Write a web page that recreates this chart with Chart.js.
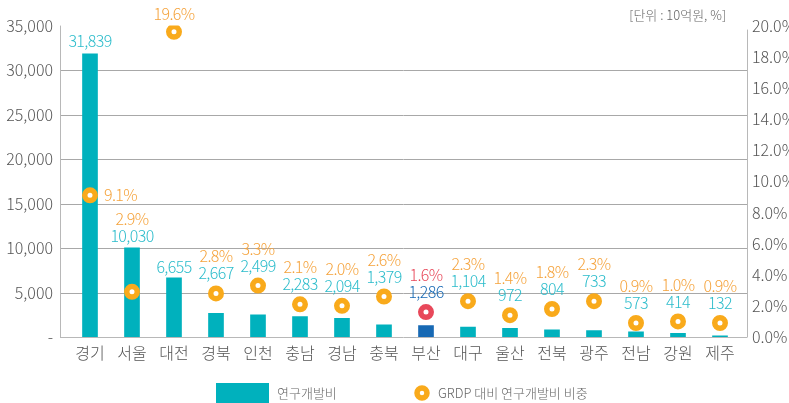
<!DOCTYPE html>
<html>
<head>
<meta charset="utf-8">
<script src="https://cdn.jsdelivr.net/npm/chart.js@4"></script>
<style>
  html, body { margin: 0; padding: 0; background: #fff; }
  #wrap { width: 789px; height: 403px; position: relative; }
</style>
</head>
<body>
<div id="wrap"><canvas id="rndChart" width="789" height="403"></canvas></div>
<script>
const regions = ['경기', '서울', '대전', '경북', '인천', '충남', '경남', '충북', '부산', '대구', '울산', '전북', '광주', '전남', '강원', '제주'];
const rndSpend = [31839, 10030, 6655, 2667, 2499, 2283, 2094, 1379, 1286, 1104, 972, 804, 733, 573, 414, 132];
const grdpShare = [9.1, 2.9, 19.6, 2.8, 3.3, 2.1, 2.0, 2.6, 1.6, 2.3, 1.4, 1.8, 2.3, 0.9, 1.0, 0.9];
const leftTicks = [0, 5000, 10000, 15000, 20000, 25000, 30000, 35000];
const rightTicks = [0, 2, 4, 6, 8, 10, 12, 14, 16, 18, 20];
const highlight = '부산';

const FONT = '"Noto Sans CJK KR", "Noto Sans", sans-serif';
const TEAL = '#00b1bd';
const TEAL_TXT = '#2bbccb';
const ORANGE = '#f9aa1b';
const ORANGE_TXT = '#f5a33c';
const BLUE = '#1769b4';
const RED = '#e8485a';
const AXIS = '#b8b8b8';
const GRID = '#a8a8a8';

const hi = regions.indexOf(highlight);
const barColors = regions.map((r, i) => i === hi ? BLUE : TEAL);
const pointColors = regions.map((r, i) => i === hi ? RED : ORANGE);

const fmt = v => v.toLocaleString('en-US');

// gridlines + axis lines extend a bit past the category band
const framePlugin = {
    id: 'frame',
    beforeDatasetsDraw(chart) {
        const { ctx, chartArea, scales } = chart;
        const x0 = chartArea.left - 9, x1 = chartArea.right + 6;
        ctx.save();
        ctx.lineWidth = 1;
        ctx.strokeStyle = GRID;
        leftTicks.slice(1, -1).forEach(v => {
            const y = Math.round(scales.y.getPixelForValue(v)) + 0.5;
            ctx.beginPath(); ctx.moveTo(x0, y); ctx.lineTo(x1, y); ctx.stroke();
        });
        ctx.strokeStyle = AXIS;
        const yb = Math.round(scales.y.getPixelForValue(0)) + 0.5;
        ctx.beginPath(); ctx.moveTo(x0, yb); ctx.lineTo(x1, yb); ctx.stroke();
        ctx.beginPath(); ctx.moveTo(x0 + 0.5, chartArea.top); ctx.lineTo(x0 + 0.5, yb); ctx.stroke();
        ctx.beginPath(); ctx.moveTo(x1 + 0.5, chartArea.top + 4); ctx.lineTo(x1 + 0.5, yb); ctx.stroke();
        ctx.restore();
    }
};

// stacked value labels above each bar / point
const labelPlugin = {
    id: 'valueLabels',
    afterDatasetsDraw(chart) {
        const { ctx } = chart;
        const bars = chart.getDatasetMeta(1).data;
        const pts = chart.getDatasetMeta(0).data;
        ctx.save();
        ctx.font = '300 16px ' + FONT;
        ctx.letterSpacing = '-0.6px';
        ctx.textAlign = 'center';
        ctx.textBaseline = 'middle';
        regions.forEach((r, i) => {
            const bar = bars[i], pt = pts[i];
            const valColor = i === hi ? BLUE : TEAL_TXT;
            const pctColor = i === hi ? RED : ORANGE_TXT;
            const pctText = grdpShare[i].toFixed(1) + '%';
            if (i === 0) {
                ctx.fillStyle = valColor;
                ctx.fillText(fmt(rndSpend[i]), bar.x, bar.y - 13);
                ctx.fillStyle = pctColor;
                ctx.textAlign = 'left';
                ctx.fillText(pctText, pt.x + 14, pt.y);
                ctx.textAlign = 'center';
                return;
            }
            if (i === 2) {
                ctx.fillStyle = valColor;
                ctx.fillText(fmt(rndSpend[i]), bar.x, bar.y - 11);
                ctx.fillStyle = pctColor;
                ctx.fillText(pctText, pt.x, pt.y - 18);
                return;
            }
            const top = Math.min(bar.y, pt.y - 8);
            ctx.fillStyle = valColor;
            ctx.fillText(fmt(rndSpend[i]), bar.x, top - 12);
            ctx.fillStyle = pctColor;
            ctx.fillText(pctText, bar.x, top - 29);
        });

        // unit note
        ctx.letterSpacing = '0px';
        ctx.font = '300 13px ' + FONT;
        ctx.fillStyle = '#666';
        ctx.textAlign = 'right';
        ctx.fillText('[단위 : 10억원, %]', 726, 15);

        // legend
        ctx.fillStyle = TEAL;
        ctx.fillRect(216, 383, 53, 22);
        ctx.fillStyle = '#666';
        ctx.textAlign = 'left';
        ctx.fillText('연구개발비', 277, 393);
        ctx.beginPath();
        ctx.arc(422, 393, 5, 0, Math.PI * 2);
        ctx.lineWidth = 5.5;
        ctx.strokeStyle = ORANGE;
        ctx.fillStyle = '#fff';
        ctx.fill();
        ctx.stroke();
        ctx.fillStyle = '#666';
        ctx.fillText('GRDP 대비 연구개발비 비중', 438, 393);
        ctx.restore();
    }
};

new Chart(document.getElementById('rndChart'), {
    data: {
        labels: regions,
        datasets: [{
            type: 'line',
            label: 'GRDP 대비 연구개발비 비중',
            data: grdpShare,
            yAxisID: 'y1',
            showLine: false,
            pointRadius: 5.25,
            pointBorderWidth: 5.5,
            pointBorderColor: pointColors,
            pointBackgroundColor: '#fff',
            order: 0
        }, {
            type: 'bar',
            label: '연구개발비',
            data: rndSpend,
            yAxisID: 'y',
            backgroundColor: barColors,
            barThickness: 15,
            order: 1
        }]
    },
    options: {
        responsive: false,
        animation: false,
        layout: { padding: { top: 25, bottom: 0, left: 0, right: 0 } },
        plugins: {
            legend: { display: false },
            tooltip: { enabled: false }
        },
        scales: {
            x: {
                grid: { display: false, drawTicks: false },
                border: { display: false },
                ticks: { color: '#555', font: { family: FONT, size: 16, weight: '300' }, padding: 6 },
                afterFit(scale) { scale.height = 66; }
            },
            y: {
                position: 'left',
                min: 0,
                max: 35000,
                grid: { display: false, drawTicks: false },
                border: { display: false },
                afterBuildTicks(scale) { scale.ticks = leftTicks.map(v => ({ value: v })); },
                ticks: {
                    color: '#555',
                    font: { family: FONT, size: 16, weight: '300' },
                    padding: 16,
                    callback: v => v === 0 ? '-' : fmt(v)
                },
                afterFit(scale) { scale.width = 69; }
            },
            y1: {
                position: 'right',
                min: 0,
                max: 20,
                grid: { display: false, drawTicks: false },
                border: { display: false },
                afterBuildTicks(scale) { scale.ticks = rightTicks.map(v => ({ value: v })); },
                ticks: {
                    color: '#555',
                    font: { family: FONT, size: 16, weight: '300' },
                    padding: 11,
                    callback: v => v.toFixed(1) + '%'
                },
                afterFit(scale) { scale.width = 48; }
            }
        }
    },
    plugins: [framePlugin, labelPlugin]
});
</script>
</body>
</html>
